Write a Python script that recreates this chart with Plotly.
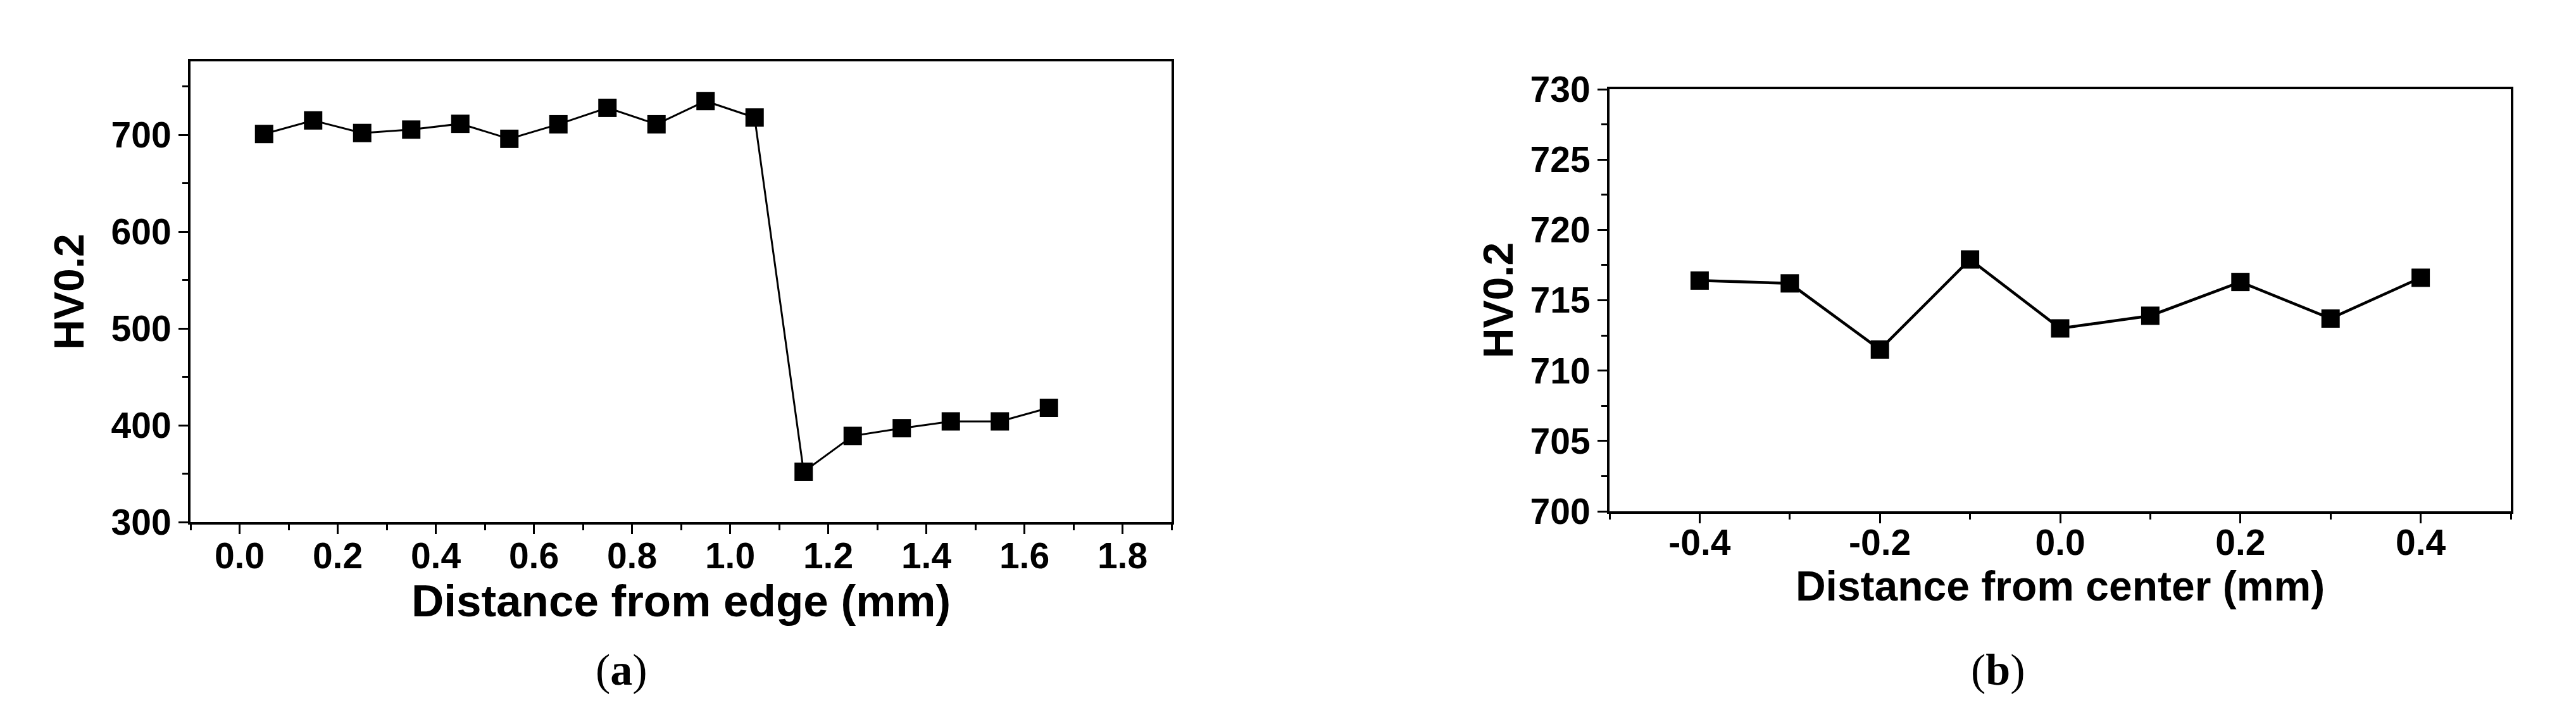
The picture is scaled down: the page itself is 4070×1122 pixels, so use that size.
"""Microhardness profiles: HV0.2 vs distance from edge (a) and from center (b)."""

import plotly.graph_objects as go

# (a) hardness vs distance from edge
edge_dist = [0.05, 0.15, 0.25, 0.35, 0.45, 0.55, 0.65, 0.75, 0.85,
             0.95, 1.05, 1.15, 1.25, 1.35, 1.45, 1.55, 1.65]
edge_hv = [701, 715, 702, 705.5, 711.5, 696, 711, 728, 711,
           735, 718, 352, 389, 397, 404, 404, 418]

# (b) hardness vs distance from center
center_dist = [-0.4, -0.3, -0.2, -0.1, 0.0, 0.1, 0.2, 0.3, 0.4]
center_hv = [716.4, 716.2, 711.5, 717.9, 713.0, 713.9, 716.3, 713.7, 716.6]

# tick labels of (b) use a plain hyphen, as in the original figure
center_ticks = [-0.4, -0.2, 0.0, 0.2, 0.4]
center_ticktext = ["-0.4", "-0.2", "0.0", "0.2", "0.4"]

panel_labels = ["(<b>a</b>)", "(<b>b</b>)"]

W, H = 4070, 1122
SANS = "Liberation Sans, Arial, sans-serif"
SERIF = "Liberation Serif, Times New Roman, serif"

fig = go.Figure()
fig.add_trace(go.Scatter(
    x=edge_dist, y=edge_hv, mode="lines+markers", xaxis="x", yaxis="y",
    line=dict(color="black", width=3),
    marker=dict(symbol="square", size=29, color="black"),
    showlegend=False,
))
fig.add_trace(go.Scatter(
    x=center_dist, y=center_hv, mode="lines+markers", xaxis="x2", yaxis="y2",
    line=dict(color="black", width=4.5),
    marker=dict(symbol="square", size=29, color="black"),
    showlegend=False,
))

tickfont = dict(family=SANS, size=57, color="black", weight="bold")
titlefont = dict(family=SANS, size=66, color="black", weight="bold")
common = dict(
    showline=True, linecolor="black", linewidth=4, mirror=True,
    ticks="outside", ticklen=15, tickwidth=3, tickcolor="black",
    showgrid=False, zeroline=False, tickfont=tickfont, automargin=False,
)

fig.update_layout(
    width=W, height=H,
    margin=dict(l=0, r=0, t=0, b=0),
    paper_bgcolor="white", plot_bgcolor="white",
    xaxis=dict(
        domain=[293 / W, 1843 / W], anchor="y", range=[-0.1, 1.9],
        tick0=0, dtick=0.2, tickformat=".1f", ticklabelstandoff=-14,
        minor=dict(ticks="outside", ticklen=9, tickwidth=3, tickcolor="black", dtick=0.1, tick0=0),
        title=dict(text="Distance from edge (mm)", font=dict(titlefont, size=71), standoff=8),
        **common,
    ),
    yaxis=dict(
        domain=[1 - 817 / H, 1 - 89 / H], anchor="x", range=[300, 776],
        tick0=300, dtick=100,
        minor=dict(ticks="outside", ticklen=9, tickwidth=3, tickcolor="black", dtick=50, tick0=300),
        title=dict(text="HV0.2", font=titlefont, standoff=22),
        **common,
    ),
    xaxis2=dict(
        domain=[2535 / W, 3959 / W], anchor="y2", range=[-0.5, 0.5],
        tickvals=center_ticks, ticktext=center_ticktext, ticklabelstandoff=-18,
        minor=dict(ticks="outside", ticklen=9, tickwidth=3, tickcolor="black", dtick=0.1, tick0=0),
        title=dict(text="Distance from center (mm)", font=titlefont, standoff=2),
        **common,
    ),
    yaxis2=dict(
        domain=[1 - 800 / H, 1 - 133 / H], anchor="x2", range=[700, 730],
        tick0=700, dtick=5,
        minor=dict(ticks="outside", ticklen=9, tickwidth=3, tickcolor="black", dtick=2.5, tick0=700),
        title=dict(text="HV0.2", font=titlefont, standoff=6),
        **common,
    ),
)

for label, xc in zip(panel_labels, [974 / W, 3149 / W]):
    fig.add_annotation(
        text=label, x=xc, y=1 - 1050 / H, xref="paper", yref="paper",
        xanchor="center", yanchor="middle", showarrow=False,
        font=dict(family=SERIF, size=70, color="black"),
    )

fig.write_html("out.html")
